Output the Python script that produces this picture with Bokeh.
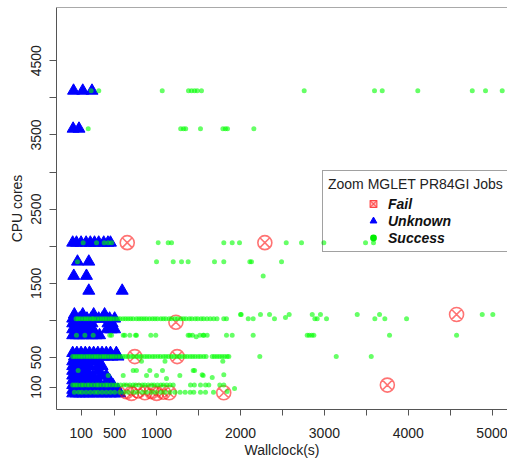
from bokeh.plotting import figure
from bokeh.models import Range1d, FixedTicker, Legend, LegendItem, ColumnDataSource, Span
from bokeh.embed import file_html
from bokeh.resources import INLINE

# ---------------- data (Wallclock seconds, CPU cores) ----------------
unknown_x = [10, 120, 230,
             5, 75,
             0, 45, 100, 160, 210, 260, 310, 370, 420, 450,
             57, 192,
             13, 164,
             192, 590,
             0, 40, 80, 130, 170, 220, 260, 310, 350, 400, 440, 500,
             20, 120, 250, 380,
             0, 30, 70, 110, 150, 200, 230, 420, 470,
             0, 50, 100, 150, 200, 240, 410, 460, 500,
             0, 40, 80, 130, 180, 230, 280, 320,
             0, 50, 100, 150, 200, 250, 300, 350, 400, 450, 520,
             20, 70, 120, 170, 220, 270, 320, 370, 420, 470, 540,
             0, 40, 80, 120, 160, 200, 250, 300,
             0, 40, 80, 120, 160, 200, 300, 350,
             0, 40, 80, 120, 160, 300,
             0, 40, 80, 120, 160, 200, 240, 350, 400,
             0, 40, 80, 120, 160, 200, 240, 300, 440,
             0, 40, 80, 120, 160, 200, 240, 280, 330, 380, 430, 480,
             0, 40, 80, 120, 160, 200, 240, 280, 330, 380, 430, 480, 540,
             0, 40, 80, 120, 160, 200, 250, 300, 350, 400, 450, 500, 560]
unknown_y = ([4096] * 3 + [3584] * 2 + [2048] * 10 + [1792] * 2 + [1600] * 2 + [1400] * 2 +
             [1024] * 12 + [1080] * 4 + [960] * 9 + [880] * 9 + [800] * 8 +
             [560] * 11 + [512] * 11 + [448] * 8 + [384] * 8 + [320] * 6 + [256] * 9 +
             [192] * 9 + [128] * 12 + [64] * 13 + [16] * 13)

success_x = [220, 311, 1067, 1380, 1416, 1452, 1484, 1535, 2759, 3597, 3689, 4113, 4762, 4920, 5119,
             185, 1287, 1320, 1347, 1523, 1790, 1820, 1845, 2159,
             125, 284, 375, 423, 463, 1019, 1138, 1178, 1801, 1901, 1988, 2545, 2727, 2993, 3490, 3585,
             57, 999, 1198, 1297, 1376, 1690, 1801, 2111, 2131, 2489,
             2270,
             40, 65, 95, 130, 160, 190, 225, 250, 285, 320, 350, 380, 410, 445, 470, 505, 540, 565,
             600, 630, 660, 690, 720, 760, 790, 820, 850, 880, 915, 950, 980, 1010, 1050, 1080,
             1110, 1150, 1180, 1220, 1250, 1290, 1320, 1350, 1390, 1420, 1460, 1490, 1530, 1560,
             1600, 1640, 1680, 1720,
             1800, 1833, 2000, 2092, 2151, 2405, 2536, 2886, 2914, 3025, 3601, 3720, 3979,
             2008, 2238, 2346, 2580, 2855, 2953, 3391, 3657, 4881, 5007,
             45, 145, 244, 442, 463, 602, 621, 681, 749, 760, 931, 990, 1376, 1396, 1428, 1472,
             1515, 1555, 1563, 1603, 1833, 1901, 2151, 2795, 2820, 2850, 2874, 3776, 4575,
             0, 30, 60, 90, 120, 155, 185, 215, 250, 280, 310, 345, 375, 405, 440, 470, 500, 535,
             565, 600, 630, 660, 695, 725, 760, 790, 820, 855, 885, 915, 950, 980, 1015, 1045,
             1080, 1110, 1140, 1175, 1205, 1240, 1270, 1300, 1335, 1365, 1400, 1430, 1460, 1495,
             1525, 1560, 1590, 1663, 1690, 1720, 1750, 1780, 1810, 1840, 1861, 2230, 3141, 3558,
             65, 423, 602, 721, 760, 880, 919, 999, 1070, 1118, 1277, 1436, 1555, 1453, 1543,
             1663, 1801, 1789, 820, 1100,
             0, 30, 60, 100, 130, 170, 200, 240, 280, 310, 350, 390, 420, 460, 500, 530, 570,
             610, 640, 680, 720, 750, 790, 830, 860, 900, 940, 970, 1010, 1050, 1080, 1120, 1160,
             1198, 1404, 1450, 1523, 1583, 1622, 1753, 1801,
             20, 70, 110, 160, 210, 260, 300, 350, 400, 450, 500, 560, 610, 660, 720, 770, 830,
             880, 940, 990, 1050, 1100, 1160, 1220, 1280, 1340, 1400, 1443, 1523, 1583, 1678,
             1841, 1929]
success_y = ([4096] * 15 + [3584] * 9 + [2048] * 16 + [1792] * 10 + [1600] * 1 +
             [1024] * 52 +
             [1024, 1024, 1080, 1024, 1024, 1024, 1040, 1024, 1024, 1024, 1024, 1024, 1024] +
             [1080] * 10 +
             [800] * 15 + [780] + [800] * 13 +
             [512] * 62 +
             [325, 258, 258, 325, 325, 258, 325, 258, 325, 218, 258, 325, 258, 325, 267,
              232, 267, 450, 450, 450] +
             [128] * 41 +
             [32] * 30 + [32, 42, 82])

fail_x = [650, 2290, 1230, 740, 1245, 4575, 3750, 1800,
          640, 700, 780, 860, 940, 1000, 1080, 1150]
fail_y = [2048, 2048, 976, 512, 512, 1080, 128, 24,
          40, 16, 48, 24, 40, 16, 32, 24]

categories = ["Fail", "Unknown", "Success"]
legend_title = "Zoom MGLET PR84GI Jobs"

x_ticks = [100, 500, 1000, 1500, 2000, 2500, 3000, 3500, 4000, 4500, 5000]
x_labels = {100: "100", 500: "500", 1000: "1000", 1500: "", 2000: "2000", 2500: "",
            3000: "3000", 3500: "", 4000: "4000", 4500: "", 5000: "5000"}
y_ticks = [100, 500, 1000, 1500, 2000, 2500, 3000, 3500, 4000, 4500]
y_labels = {100: "100", 500: "500", 1000: "", 1500: "1500", 2000: "", 2500: "2500",
            3000: "", 3500: "3500", 4000: "", 4500: "4500"}

n = min(len(success_x), len(success_y))
success_x = success_x[:n]
success_y = success_y[:n]

FONT = "Liberation Sans"
NAN = float("nan")

p = figure(width=507, height=461, x_range=Range1d(-193, 5182), y_range=Range1d(-201, 5218),
           output_backend="svg", toolbar_location=None,
           min_border_left=56, min_border_right=0, min_border_top=7, min_border_bottom=52)
p.grid.visible = False
# box on top, left and bottom only (the right side lies outside the original picture)
p.outline_line_color = None
p.background_fill_color = "white"
p.add_layout(Span(location=p.y_range.end, dimension="width", line_color="#555555", line_width=1))

for ax in (p.xaxis[0], p.yaxis[0]):
    ax.axis_line_color = "#555555"
    ax.major_tick_line_color = "#555555"
    ax.minor_tick_line_color = None
    ax.major_tick_in = 0
    ax.major_label_text_font = FONT
    ax.major_label_text_font_size = "14px"
    ax.major_label_text_color = "#222222"
    ax.axis_label_text_font = FONT
    ax.axis_label_text_font_size = "14px"
    ax.axis_label_text_font_style = "normal"
    ax.axis_label_text_color = "#222222"

p.xaxis.ticker = FixedTicker(ticks=x_ticks)
p.xaxis.major_label_overrides = x_labels
p.xaxis.major_tick_out = 6
p.xaxis.major_label_standoff = 12
p.xaxis.axis_label = "Wallclock(s)"
p.xaxis.axis_label_standoff = 1

p.yaxis.ticker = FixedTicker(ticks=y_ticks)
p.yaxis.major_label_overrides = y_labels
p.yaxis.major_label_orientation = "vertical"
p.yaxis.major_tick_out = 7
p.yaxis.major_label_standoff = 8
p.yaxis.axis_label = "CPU cores"
p.yaxis.axis_label_standoff = 4

src_u = ColumnDataSource(dict(x=unknown_x, y=unknown_y))
src_f = ColumnDataSource(dict(x=fail_x, y=fail_y))
src_s = ColumnDataSource(dict(x=success_x, y=success_y))

p.scatter("x", "y", source=src_u, marker="triangle", size=12, fill_color="#0000FF",
          line_color="#0000FF", line_width=1)
p.scatter("x", "y", source=src_f, marker="circle_x", size=14, fill_color=None,
          line_color="#FF0000", line_alpha=0.55, line_width=1.6)
p.scatter("x", "y", source=src_s, marker="circle", size=5, fill_color="#00FF00",
          line_color=None, fill_alpha=0.6)

# legend-only glyphs (NaN point: nothing drawn in the plot area)
lf = p.scatter(x=[NAN], y=[NAN], marker="square_x", size=8, fill_color="#FF9999", fill_alpha=0.7,
               line_color="#FF3333", line_width=1)
lu = p.scatter(x=[NAN], y=[NAN], marker="triangle", size=8, fill_color="#0000FF", line_color="#0000FF")
ls = p.scatter(x=[NAN], y=[NAN], marker="circle", size=9, fill_color="#00EE00", line_color=None)
lt = p.scatter(x=[NAN], y=[NAN], marker="circle", size=1, fill_alpha=0, line_alpha=0)

# legend 1: box and title (rows kept empty to size the box)
legend1 = Legend(items=[LegendItem(label=" ", renderers=[lt]) for c in categories],
                 title=legend_title, location=(266, 157))
legend1.title_text_font = FONT
legend1.title_text_font_size = "14px"
legend1.title_text_font_style = "normal"
legend1.title_text_color = "#222222"
legend1.title_standoff = 3
legend1.label_text_font_size = "14px"
legend1.glyph_width = 20
legend1.glyph_height = 17
legend1.label_height = 17
legend1.label_standoff = 0
legend1.spacing = 0
legend1.padding = 5
legend1.margin = 0
legend1.border_line_color = "#444444"
legend1.border_line_width = 1
legend1.background_fill_alpha = 0
p.add_layout(legend1, "center")

# legend 2: glyphs and labels, indented as in the original
legend2 = Legend(items=[LegendItem(label=c, renderers=[r]) for c, r in zip(categories, (lf, lu, ls))],
                 location=(307, 163))
legend2.label_text_font = FONT
legend2.label_text_font_size = "14px"
legend2.label_text_font_style = "bold italic"
legend2.label_text_color = "#111111"
legend2.glyph_width = 20
legend2.glyph_height = 17
legend2.label_height = 17
legend2.label_standoff = 5
legend2.spacing = 0
legend2.padding = 5
legend2.margin = 0
legend2.border_line_color = None
legend2.background_fill_alpha = 0
p.add_layout(legend2, "center")

open("out.html", "w").write(file_html(p, INLINE))
